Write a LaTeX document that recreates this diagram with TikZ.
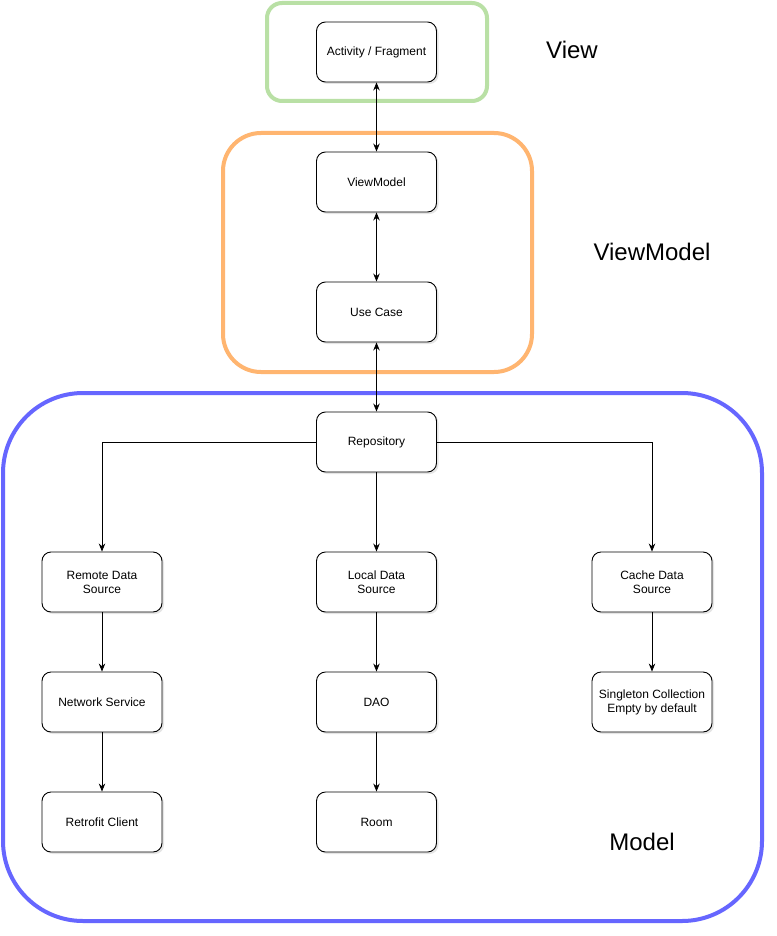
\documentclass[tikz,border=0pt]{standalone}
\usepackage{fontspec}
\setmainfont{Liberation Sans}
\usetikzlibrary{arrows.meta,shadows}
\begin{document}
\begin{tikzpicture}[x=1pt,y=-1pt,
  comp/.style={draw=black,line width=0.9pt,rounded corners=9pt,fill=white,
    minimum width=120pt,minimum height=60pt,align=center,
    font=\fontsize{12}{14}\selectfont,
    drop shadow={opacity=0.2,shadow xshift=2pt,shadow yshift=-2pt}},
  grp/.style={line width=4pt},
  conn/.style={line width=0.8pt,-{Stealth[length=8pt,width=6.5pt]}},
  biconn/.style={line width=0.8pt,{Stealth[length=8pt,width=6.5pt]}-{Stealth[length=8pt,width=6.5pt]}},
  layer/.style={font=\fontsize{24}{28}\selectfont,
    text=black}
]
\definecolor{grpgreen}{HTML}{B9E0A5}
\definecolor{grporange}{HTML}{FFB570}
\definecolor{grpblue}{HTML}{6666FF}
\useasboundingbox (0,0) rectangle (776,936);
\fill[white] (0,0) rectangle (776,936);

% group frames
\draw[grp,grpgreen,rounded corners=15pt] (267,3) rectangle (487,101);
\draw[grp,grporange,rounded corners=38pt] (223,133) rectangle (532,372);
\draw[grp,grpblue,rounded corners=80pt] (3,393) rectangle (762,921);

% layer labels
\node[layer] (lview) at (572,50) {View};
\node[layer] (lvm) at (652,252) {ViewModel};
\node[layer] (lmodel) at (642,842) {Model};

% components
\node[comp] (act) at (376.5,52) {Activity / Fragment};
\node[comp] (vm) at (376.5,182) {ViewModel};
\node[comp] (uc) at (376.5,312) {Use Case};
\node[comp] (repo) at (376.5,442) {Repository};
\node[comp] (remote) at (102,582) {Remote Data\\Source};
\node[comp] (local) at (376.5,582) {Local Data\\Source};
\node[comp] (cache) at (652,582) {Cache Data\\Source};
\node[comp] (net) at (102,702) {Network Service};
\node[comp] (dao) at (376.5,702) {DAO};
\node[comp] (single) at (652,702) {Singleton Collection\\Empty by default};
\node[comp] (retro) at (102,822) {Retrofit Client};
\node[comp] (room) at (376.5,822) {Room};

% connectors
\draw[biconn] (act) -- (vm);
\draw[biconn] (vm) -- (uc);
\draw[biconn] (uc) -- (repo);
\draw[conn] (repo.west) -| (remote.north);
\draw[conn] (repo) -- (local);
\draw[conn] (repo.east) -| (cache.north);
\draw[conn] (remote) -- (net);
\draw[conn] (net) -- (retro);
\draw[conn] (local) -- (dao);
\draw[conn] (dao) -- (room);
\draw[conn] (cache) -- (single);
\end{tikzpicture}
\end{document}
